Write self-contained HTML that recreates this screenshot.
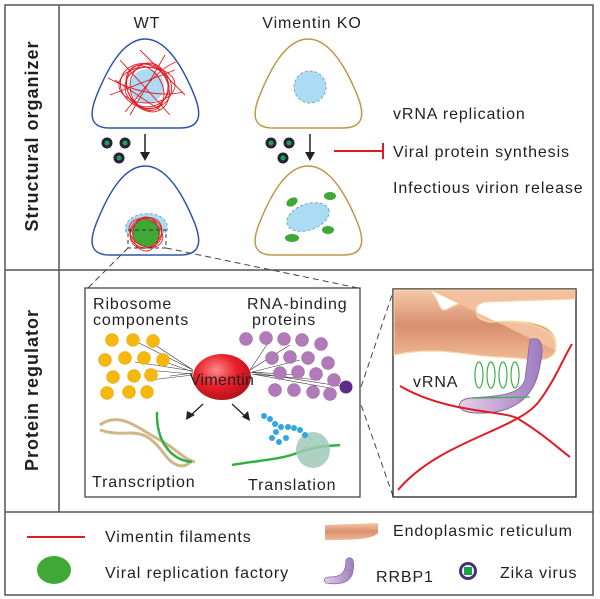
<!DOCTYPE html>
<html><head><meta charset="utf-8"><style>body{margin:0;background:#fff}svg{display:block}text{font-family:"Liberation Sans",Arial,sans-serif;fill:#231f20;font-size:16px;letter-spacing:0.9px}</style></head><body>
<svg width="600" height="599" viewBox="0 0 600 599">
<defs>
<radialGradient id="vim" cx="0.4" cy="0.35" r="0.7"><stop offset="0" stop-color="#ff8a8a"/><stop offset="0.5" stop-color="#e8202a"/><stop offset="1" stop-color="#b0101a"/></radialGradient>
<linearGradient id="er" x1="0" y1="0" x2="0" y2="1"><stop offset="0" stop-color="#f4c9a8"/><stop offset="0.5" stop-color="#d98f6e"/><stop offset="1" stop-color="#f0b894"/></linearGradient>
<linearGradient id="rr" x1="0" y1="0" x2="1" y2="0"><stop offset="0" stop-color="#e7cfe8"/><stop offset="1" stop-color="#9c7cc0"/></linearGradient>
</defs>
<rect x="5" y="5" width="588" height="590" fill="none" stroke="#555" stroke-width="1.5"/>
<line x1="59" y1="5" x2="59" y2="512" stroke="#555" stroke-width="1.5"/>
<line x1="5" y1="270" x2="593" y2="270" stroke="#555" stroke-width="1.5"/>
<line x1="5" y1="512" x2="593" y2="512" stroke="#555" stroke-width="1.5"/>
<text transform="translate(38,136) rotate(-90)" text-anchor="middle" style="font-size:18px;font-weight:bold;letter-spacing:1px">Structural organizer</text>
<text transform="translate(38,390) rotate(-90)" text-anchor="middle" style="font-size:18px;font-weight:bold;letter-spacing:1px">Protein regulator</text>
<text x="147" y="28" text-anchor="middle">WT</text>
<text x="312" y="28" text-anchor="middle">Vimentin KO</text>
<g fill="none" stroke-width="1.5">
<path d="M145,39 C168,39 185,72 195,97 C203,118 198,128 180,128 L110,128 C92,128 88,118 96,97 C106,72 122,39 145,39Z" stroke="#2c55a8"/>
<path d="M145,166 C168,166 185,199 195,224 C203,245 198,255 180,255 L110,255 C92,255 88,245 96,224 C106,199 122,166 145,166Z" stroke="#2c55a8"/>
<path d="M308,39 C331,39 348,72 358,97 C366,118 361,128 343,128 L273,128 C255,128 251,118 259,97 C269,72 285,39 308,39Z" stroke="#c0954a"/>
<path d="M308,166 C331,166 348,199 358,224 C366,245 361,255 343,255 L273,255 C255,255 251,245 259,224 C269,199 285,166 308,166Z" stroke="#c0954a"/>
</g>
<circle cx="147" cy="86" r="17" fill="#abdcf3"/>
<g fill="none" stroke="#e01b24" stroke-width="0.9">
<ellipse cx="147" cy="87" rx="22" ry="20"/><ellipse cx="146" cy="86" rx="26" ry="22" transform="rotate(20 146 86)"/><ellipse cx="148" cy="88" rx="20" ry="25" transform="rotate(-30 148 88)"/><ellipse cx="147" cy="85" rx="28" ry="18"/><ellipse cx="145" cy="88" rx="24" ry="17" transform="rotate(60 145 88)"/><ellipse cx="149" cy="86" rx="19" ry="23"/>
<path d="M110,95 L175,70 M120,60 L170,115 M140,50 L185,95 M115,80 L160,110 M165,55 L130,115 M108,78 C130,90 160,98 183,92 M125,112 C140,95 155,70 176,62"/>
</g>
<path d="M126,232 C120,210 172,205 167,232 L158,232 C160,215 134,215 136,232Z" fill="#abdcf3" stroke="#7aa8c0" stroke-dasharray="3,2"/>
<circle cx="146" cy="233" r="14" fill="#3ea935"/>
<g fill="none" stroke="#e01b24" stroke-width="0.9"><ellipse cx="146" cy="233" rx="16" ry="15"/><ellipse cx="146" cy="233" rx="18" ry="13" transform="rotate(30 146 233)"/><ellipse cx="146" cy="234" rx="13" ry="17"/><ellipse cx="146" cy="233" rx="17" ry="14" transform="rotate(-40 146 233)"/></g>
<rect x="128" y="230" width="38" height="18" fill="none" stroke="#333" stroke-dasharray="4,3"/>
<circle cx="310" cy="87" r="16" fill="#abdcf3" stroke="#7aa8c0" stroke-dasharray="3,2"/>
<ellipse cx="308" cy="217" rx="22" ry="13" transform="rotate(-20 308 217)" fill="#abdcf3" stroke="#7aa8c0" stroke-dasharray="3,2"/>
<g fill="#3ea935"><ellipse cx="292" cy="202" rx="6" ry="4" transform="rotate(-30 292 202)"/><ellipse cx="292" cy="238" rx="7" ry="4"/><ellipse cx="330" cy="196" rx="6" ry="4"/><ellipse cx="328" cy="230" rx="6" ry="4"/></g>
<g stroke="#222" stroke-width="1.5"><line x1="145" y1="134" x2="145" y2="155"/><line x1="310" y1="134" x2="310" y2="155"/></g>
<polygon points="140,152 150,152 145,161" fill="#222"/><polygon points="305,152 315,152 310,161" fill="#222"/>
<g fill="#2a1f3a"><circle cx="107" cy="143" r="5.5"/><circle cx="125" cy="143" r="5.5"/><circle cx="119" cy="158" r="5.5"/><circle cx="271" cy="143" r="5.5"/><circle cx="289" cy="143" r="5.5"/><circle cx="283" cy="158" r="5.5"/></g>
<g fill="#1ba34a"><circle cx="107" cy="143" r="2.5"/><circle cx="125" cy="143" r="2.5"/><circle cx="119" cy="158" r="2.5"/><circle cx="271" cy="143" r="2.5"/><circle cx="289" cy="143" r="2.5"/><circle cx="283" cy="158" r="2.5"/></g>
<line x1="334" y1="151" x2="383" y2="151" stroke="#e01b24" stroke-width="2"/><line x1="383" y1="143" x2="383" y2="159" stroke="#e01b24" stroke-width="2"/>
<text x="393" y="119">vRNA replication</text>
<text x="393" y="157">Viral protein synthesis</text>
<text x="393" y="193">Infectious virion release</text>
<g stroke="#444" stroke-dasharray="6,4" fill="none"><path d="M128,248 L88,288"/><path d="M166,248 L358,288"/><path d="M358,396 L393,292"/><path d="M358,396 L393,496"/></g>
<rect x="85" y="288" width="275" height="209" fill="#fff" stroke="#444" stroke-width="1.3"/>
<text x="93" y="309">Ribosome</text><text x="93" y="325">components</text>
<text x="247" y="309">RNA-binding</text><text x="252" y="325">proteins</text>
<g stroke="#333" stroke-width="0.6">
<path d="M133,340 L193,370 M155,345 L193,370 M160,360 L193,372 M150,380 L193,375 M146,370 L193,374 M170,376 L193,373 M135,362 L193,371"/>
<path d="M250,370 L270,340 M250,370 L290,345 M252,372 L300,360 M252,372 L295,375 M252,374 L320,380 M252,374 L330,388 M250,372 L346,387"/>
</g>
<g fill="#f6b80f" stroke="#e0a000" stroke-width="0.5">
<circle cx="112" cy="340" r="6.5"/><circle cx="133" cy="340" r="6.5"/><circle cx="153" cy="341" r="6.5"/>
<circle cx="105" cy="360" r="6.5"/><circle cx="125" cy="358" r="6.5"/><circle cx="144" cy="358" r="6.5"/><circle cx="163" cy="360" r="6.5"/>
<circle cx="113" cy="377" r="6.5"/><circle cx="134" cy="376" r="6.5"/><circle cx="151" cy="375" r="6.5"/>
<circle cx="107" cy="393" r="6.5"/><circle cx="129" cy="392" r="6.5"/><circle cx="147" cy="392" r="6.5"/>
</g>
<g fill="#b27ab8" stroke="#8f5f98" stroke-width="0.5">
<circle cx="246" cy="339" r="6.5"/><circle cx="266" cy="338" r="6.5"/><circle cx="284" cy="339" r="6.5"/><circle cx="302" cy="340" r="6.5"/><circle cx="321" cy="344" r="6.5"/>
<circle cx="272" cy="358" r="6.5"/><circle cx="290" cy="357" r="6.5"/><circle cx="308" cy="358" r="6.5"/><circle cx="328" cy="363" r="6.5"/>
<circle cx="280" cy="373" r="6.5"/><circle cx="298" cy="372" r="6.5"/><circle cx="316" cy="374" r="6.5"/><circle cx="334" cy="380" r="6.5"/>
<circle cx="275" cy="390" r="6.5"/><circle cx="294" cy="390" r="6.5"/><circle cx="313" cy="392" r="6.5"/><circle cx="330" cy="394" r="6.5"/>
</g>
<circle cx="346" cy="387" r="6.5" fill="#5a2d8a"/>
<ellipse cx="222" cy="377" rx="29" ry="23" fill="url(#vim)"/>
<text x="222" y="385" text-anchor="middle" style="letter-spacing:0.3px">Vimentin</text>
<g stroke="#222" stroke-width="1.3"><line x1="203" y1="404" x2="190" y2="416"/><line x1="232" y1="404" x2="246" y2="417"/></g>
<polygon points="186,420 187,411 195,415" fill="#222"/><polygon points="250,421 242,417 248,411" fill="#222"/>
<g fill="none" stroke="#cdb887" stroke-width="3"><path d="M100,425 C120,410 140,430 160,440 C175,448 185,460 195,462"/><path d="M100,430 C130,440 140,420 165,455 C175,468 185,468 190,462"/></g>
<path d="M157,412 C156,440 170,460 192,462" fill="none" stroke="#2fb043" stroke-width="2.5"/>
<path d="M232,465 C260,460 280,460 300,452 C315,446 330,446 340,445" fill="none" stroke="#2fb043" stroke-width="2.5"/>
<ellipse cx="313" cy="450" rx="17" ry="18" fill="#9fc9b8" opacity="0.85"/>
<g fill="#2fa6e0"><circle cx="264" cy="416" r="3"/><circle cx="270" cy="419" r="3"/><circle cx="275" cy="424" r="3"/><circle cx="281" cy="427" r="3"/><circle cx="288" cy="427" r="3"/><circle cx="294" cy="428" r="3"/><circle cx="300" cy="430" r="3"/><circle cx="305" cy="435" r="3"/><circle cx="276" cy="432" r="3"/><circle cx="272" cy="438" r="3"/><circle cx="279" cy="442" r="3"/><circle cx="286" cy="438" r="3"/></g>
<text x="92" y="487">Transcription</text>
<text x="248" y="490">Translation</text>
<rect x="393" y="289" width="183" height="208" fill="#fff" stroke="#222" stroke-width="1.3"/>
<path d="M394,290 L430,290 C440,300 438,310 445,310 C455,306 460,300 475,304 C480,312 470,318 490,322 C545,318 560,330 555,352 C548,365 530,358 500,357 C470,357 440,345 394,355Z" fill="url(#er)" stroke="#f6d8a8" stroke-width="1.2"/>
<path d="M430,290 L575,290 L575,299 L485,302 C470,305 475,320 490,322 C520,320 560,325 555,350" fill="#f2c09e" stroke="#f6d8a8" stroke-width="1.2"/>
<path d="M530,340 C540,335 545,345 540,365 C535,400 510,415 475,413 C455,412 455,400 470,398 C500,396 520,395 525,380 Z" fill="url(#rr)" stroke="#8a6aa8"/>
<g fill="none" stroke="#3bb04a" stroke-width="1.2"><ellipse cx="479" cy="375" rx="4" ry="13"/><ellipse cx="491" cy="375" rx="4" ry="13"/><ellipse cx="503" cy="375" rx="4" ry="13"/><ellipse cx="515" cy="375" rx="4" ry="13"/><path d="M472,398 L530,397"/></g>
<text x="413" y="387">vRNA</text>
<g fill="none" stroke="#e01b24" stroke-width="2"><path d="M400,386 C450,415 510,410 520,420 C545,435 560,450 570,457"/><path d="M398,490 C440,440 520,430 540,400 C555,380 565,355 572,344"/></g>
<line x1="27" y1="537" x2="85" y2="537" stroke="#e01b24" stroke-width="2"/>
<text x="105" y="542">Vimentin filaments</text>
<ellipse cx="54" cy="570" rx="17" ry="14" fill="#3ea935"/>
<text x="105" y="578">Viral replication factory</text>
<path d="M325,525 L378,523 L378,533 C372,540 350,540 325,540Z" fill="url(#er)"/>
<text x="393" y="536">Endoplasmic reticulum</text>
<path d="M348,558 C354,556 355,565 352,575 C348,584 338,585 326,583 C322,580 325,577 330,577 C342,577 346,572 346,560Z" fill="url(#rr)" stroke="#8a6aa8" stroke-width="0.8"/>
<text x="376" y="582">RRBP1</text>
<circle cx="468" cy="571" r="9" fill="#4a2d7a"/><circle cx="468" cy="571" r="6" fill="#ffffff"/><rect x="464" y="567" width="8" height="8" fill="#1ba34a"/>
<text x="500" y="578">Zika virus</text>
</svg>
</body></html>
